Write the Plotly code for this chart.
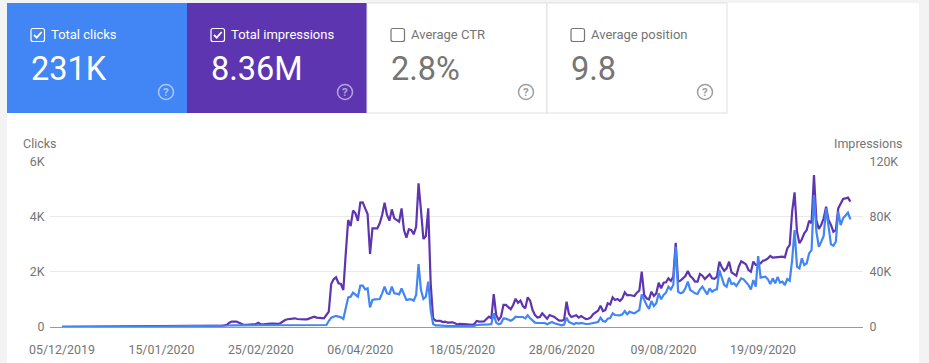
import pandas as pd
import plotly.graph_objects as go

W, H = 929, 363

impressions = [
 60,70,60,80,70,60,80,90,70,80,90,80,70,90,100,90,80,100,110,100,
 90,110,120,110,100,120,130,140,120,130,150,160,140,170,180,170,160,180,200,220,
 210,230,250,240,260,280,300,320,350,380,420,450,480,500,520,500,540,560,600,620,
 680,720,800,900,950,1000,1000,1200,1500,3100,3900,3900,3900,3100,2400,1500,1500,1700,2200,1900,
 2200,3100,1900,1900,2200,2400,2400,2400,2200,2200,2700,4100,5100,5600,5800,5800,6300,5800,5600,5800,
 5600,5600,6300,7000,7500,6800,6800,6800,6300,8700,11100,31200,34600,36000,31700,31200,26800,53400,77600,73200,
 84400,82400,76900,90200,90400,86000,81900,52900,71500,71500,71500,75200,81200,90200,81200,77100,85300,78800,77600,76400,
 86000,70300,64800,70800,70300,67200,72700,104200,84800,63800,66000,86000,31700,6300,4600,4400,4400,3600,3900,3100,
 3100,3400,2700,1900,2200,2200,2400,1900,1700,1500,2200,4400,3900,3900,4100,5800,7500,6300,23900,8700,
 5100,7500,16000,16000,14300,12800,16000,20500,17600,19100,15200,13500,21500,19100,12300,8700,6800,7300,9900,8200,
 6000,8700,8200,7300,5800,4600,4600,5100,18400,9400,7300,8000,8500,6800,8000,6800,5800,6000,7000,9400,
 10600,11800,15500,11600,12300,17200,16400,21500,19600,20300,18900,20800,25100,23000,23200,22700,22500,24900,26300,40100,
 23200,20800,20000,25600,22500,24400,32100,28000,32100,32400,35300,33400,36500,61100,32900,33600,35300,37000,40600,37000,
 35300,32900,32900,38400,37200,34800,36500,38200,35300,35000,36500,47400,43300,40800,42500,47400,39600,38700,37200,43700,
 47600,46600,45400,41300,40100,47400,45000,45000,46200,48100,48600,49800,51500,50300,50500,50800,50800,51000,50500,57000,
 59500,83600,97600,69100,60700,63600,67900,70300,77100,75200,110200,77600,71100,74000,78800,87300,77600,74000,69100,70300,
 86000,89700,92800,93300,93800,90900,
]

clicks = [
 3,4,3,4,4,3,4,5,4,4,5,4,4,5,5,5,4,5,6,5,
 5,6,6,6,5,6,7,7,6,7,8,8,7,9,9,9,8,9,10,11,
 11,12,13,12,13,14,15,16,17,19,21,23,24,25,26,25,27,28,30,31,
 34,36,38,40,42,44,46,48,50,55,60,60,58,55,50,46,45,46,48,47,
 48,52,48,48,50,52,52,52,50,50,52,56,60,62,64,64,66,64,62,64,
 62,62,66,70,72,66,48,60,60,72,217,338,374,399,374,350,290,676,1075,1099,
 1244,1172,1099,1498,1498,1365,1401,713,978,1003,1003,1015,1220,1462,1220,1196,1462,1220,1208,1184,
 1401,1160,978,1003,1003,954,1160,2283,1341,1015,1099,1643,616,109,60,60,48,40,36,36,
 36,36,36,36,36,36,36,36,36,36,40,72,72,72,72,85,97,109,495,157,
 97,133,314,302,266,230,278,374,362,374,362,314,423,314,217,157,145,145,157,145,
 97,145,181,133,109,72,60,85,338,181,133,97,145,121,145,121,109,109,133,157,
 169,181,338,217,193,302,326,495,435,435,423,459,580,459,556,519,495,556,616,1184,
 954,797,652,942,761,858,1220,1003,1160,1244,1462,1365,1522,2911,1280,1220,1256,1401,1643,1341,
 1280,1220,1196,1365,1462,1305,1184,1401,1281,1341,1365,2066,1824,1522,1462,1788,1558,1582,1486,1607,
 1764,1727,1643,1522,1365,1703,1462,2573,1788,1800,1824,1727,1558,1764,1582,1812,1607,1643,1522,1740,
 1679,2428,3515,2186,2126,2488,2247,2307,2670,2790,4784,3455,2911,3092,3298,4300,3636,2996,2948,3092,
 4180,3696,3938,4022,4143,3902,
]

date_ticks = ["2019-12-05", "2020-01-15", "2020-02-25", "2020-04-06",
              "2020-05-18", "2020-06-28", "2020-08-09", "2020-09-19"]
date_labels = ["05/12/2019", "15/01/2020", "25/02/2020", "06/04/2020",
               "18/05/2020", "28/06/2020", "09/08/2020", "19/09/2020"]
clicks_ticks = [0, 2000, 4000, 6000]
clicks_labels = ["0", "2K", "4K", "6K"]
impr_ticks = [0, 40000, 80000, 120000]
impr_labels = ["0", "40K", "80K", "120K"]

tile_names = ["Total clicks", "Total impressions", "Average CTR", "Average position"]
tile_values = ["231K", "8.36M", "2.8%", "9.8"]

BLUE = "#4285f4"
PURPLE = "#5e35b1"
GREY = "#757575"
FONT = "Roboto, Arial, sans-serif"

dates = pd.date_range("2019-12-05", periods=len(clicks))
impr_dates = pd.date_range("2019-12-05", periods=len(impressions))

def px(x):
    return x / W

def py(y):
    return 1 - y / H

fig = go.Figure()
fig.add_trace(go.Scatter(x=impr_dates, y=impressions, mode="lines", yaxis="y", name="Impressions",
                         line=dict(color=PURPLE, width=2.2), hoverinfo="skip"))
fig.add_trace(go.Scatter(x=dates, y=clicks, mode="lines", yaxis="y2", name="Clicks",
                         line=dict(color=BLUE, width=2.2), hoverinfo="skip"))

shapes = []
annotations = []

def rect(x0, y0, x1, y1, fill, line=None, width=1, layer="below"):
    shapes.append(dict(type="rect", xref="paper", yref="paper",
                       x0=px(x0), x1=px(x1), y0=py(y1), y1=py(y0),
                       fillcolor=fill, layer=layer,
                       line=dict(color=line or "rgba(0,0,0,0)", width=width if line else 0)))

def text(x, y, s, size, color, anchor="left"):
    annotations.append(dict(xref="paper", yref="paper", x=px(x), y=py(y), text=s, showarrow=False,
                            xanchor=anchor, yanchor="middle", xshift=0,
                            font=dict(family=FONT, size=size, color=color),
                            borderpad=0, align=anchor))

rect(7, 3, 919, 363, "#ffffff")

tile_left = [7, 187, 367, 547]
tile_right = [187, 367, 547, 727]
tile_fill = [BLUE, PURPLE, "#ffffff", "#ffffff"]
tile_on = [True, True, False, False]
content_x = [31, 211, 391, 571]
help_x = [166, 345, 526, 705]

for i in range(4):
    on = tile_on[i]
    rect(tile_left[i], 3, tile_right[i], 113, tile_fill[i],
         None if on else "#e0e0e0", 1)
    fg = "#ffffff" if on else GREY
    cx = content_x[i]
    # checkbox
    shapes.append(dict(type="path", xref="paper", yref="paper", layer="above",
        path=("M {a} {t} L {b} {t} Q {c} {t} {c} {t2} L {c} {b2} Q {c} {d} {b} {d} L {a} {d} "
              "Q {a0} {d} {a0} {b2} L {a0} {t2} Q {a0} {t} {a} {t} Z").format(
              a=px(cx + 2), b=px(cx + 11.5), c=px(cx + 13.5), a0=px(cx),
              t=py(28.5), t2=py(30.5), b2=py(39.5), d=py(41.5)),
        line=dict(color=fg, width=1.2), fillcolor="rgba(0,0,0,0)"))
    if on:
        shapes.append(dict(type="path", xref="paper", yref="paper", layer="above",
            path="M {} {} L {} {} L {} {}".format(px(cx + 3), py(35), px(cx + 5.7), py(37.7),
                                                  px(cx + 10.7), py(32)),
            line=dict(color=fg, width=1.8)))
    text(cx + 19, 34.5, tile_names[i], 13, fg)
    text(cx - 1.5, 69, tile_values[i], 32.5, fg)
    # help icon
    hc = "rgba(255,255,255,0.55)" if on else "#9e9e9e"
    shapes.append(dict(type="circle", xref="paper", yref="paper", layer="above",
                       x0=px(help_x[i] - 7.5), x1=px(help_x[i] + 7.5),
                       y0=py(99.5), y1=py(84.5),
                       line=dict(color=hc, width=1.5), fillcolor="rgba(0,0,0,0)"))
    text(help_x[i], 92, "<b>?</b>", 11.5, hc, "center")

text(22, 143.5, "Clicks", 12.5, GREY)
text(904, 143.5, "Impressions", 12.5, GREY, "right")

d0, d1 = "2019-11-30 02:00", "2020-10-30 05:00"

fig.update_layout(
    width=W, height=H, autosize=False,
    margin=dict(l=0, r=0, t=0, b=0, autoexpand=False),
    paper_bgcolor="#f3f3f3", plot_bgcolor="rgba(0,0,0,0)",
    showlegend=False,
    font=dict(family=FONT, size=12, color=GREY),
    shapes=shapes, annotations=annotations,
    xaxis=dict(domain=[px(50), px(863)], type="date", range=[d0, d1],
               tickmode="array", tickvals=date_ticks, ticktext=date_labels,
               showgrid=False, zeroline=False, showline=False,
               ticks="outside", ticklen=11, tickcolor="rgba(0,0,0,0)",
               tickfont=dict(family=FONT, size=12.4, color=GREY)),
    yaxis=dict(domain=[py(327), py(161.5)], side="right", anchor="x", range=[0, 120000],
               tickmode="array", tickvals=impr_ticks, ticktext=impr_labels,
               showgrid=True, gridcolor="#e9e9e9", gridwidth=1,
               zeroline=True, zerolinecolor="#9a9a9a", zerolinewidth=1, showline=False,
               ticks="outside", ticklen=3, tickcolor="rgba(0,0,0,0)",
               tickfont=dict(family=FONT, size=12.4, color=GREY)),
    yaxis2=dict(domain=[py(327), py(161.5)], side="left", anchor="x", overlaying="y", range=[0, 6000],
                tickmode="array", tickvals=clicks_ticks, ticktext=clicks_labels,
                showgrid=False, zeroline=False, showline=False,
                ticks="outside", ticklen=2, tickcolor="rgba(0,0,0,0)",
                tickfont=dict(family=FONT, size=12.4, color=GREY)),
)

fig.write_html("out.html", config=dict(displayModeBar=False),
               post_script="document.body.style.margin='0';document.body.style.overflow='hidden';document.documentElement.style.overflow='hidden';")
